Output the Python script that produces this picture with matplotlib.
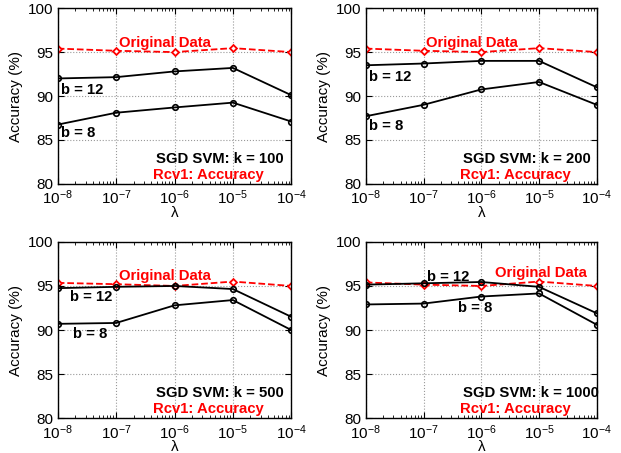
import matplotlib
matplotlib.use('Agg')
import matplotlib.pyplot as plt
import numpy as np

plt.rcParams['font.family'] = ['Liberation Sans', 'DejaVu Sans']
plt.rcParams['mathtext.fontset'] = 'custom'
plt.rcParams['mathtext.rm'] = 'Liberation Sans'
plt.rcParams['mathtext.it'] = 'Liberation Sans:italic'
plt.rcParams['mathtext.bf'] = 'Liberation Sans:bold'

lam = [1e-8, 1e-7, 1e-6, 1e-5, 1e-4]
ks = [100, 200, 500, 1000]

orig = {
    100: [95.4, 95.15, 95.0, 95.45, 95.0],
    200: [95.4, 95.15, 95.0, 95.45, 95.0],
    500: [95.35, 95.2, 95.0, 95.5, 95.0],
    1000: [95.4, 95.15, 95.0, 95.5, 95.0],
}
b12 = {
    100: [92.0, 92.15, 92.8, 93.2, 90.1],
    200: [93.5, 93.7, 94.0, 94.0, 91.0],
    500: [94.75, 94.9, 95.0, 94.65, 91.5],
    1000: [95.15, 95.3, 95.45, 94.9, 91.9],
}
b8 = {
    100: [86.75, 88.1, 88.7, 89.25, 87.1],
    200: [87.7, 89.0, 90.75, 91.6, 89.0],
    500: [90.7, 90.8, 92.8, 93.4, 90.0],
    1000: [92.9, 93.0, 93.8, 94.15, 90.6],
}

# label anchor positions (x in lambda, y in accuracy): original, b=12, b=8
label_pos = {
    100: [(1.1e-7, 96.0), (1.15e-8, 90.7), (1.15e-8, 85.8)],
    200: [(1.1e-7, 96.0), (1.15e-8, 92.2), (1.15e-8, 86.55)],
    500: [(1.1e-7, 96.1), (1.6e-8, 93.7), (1.8e-8, 89.5)],
    1000: [(1.75e-6, 96.5), (1.15e-7, 96.05), (3.9e-7, 92.55)],
}

fig = plt.figure(figsize=(6.21, 4.53), dpi=100)
boxes = [
    [0.093, 0.594, 0.376, 0.388],
    [0.589, 0.594, 0.372, 0.388],
    [0.093, 0.077, 0.376, 0.389],
    [0.589, 0.077, 0.372, 0.389],
]

for k, box in zip(ks, boxes):
    ax = fig.add_axes(box)
    ax.plot(lam, orig[k], '--', color='red', lw=1.3, marker='D', ms=3.5,
            mfc='white', mec='red', mew=1.3)
    ax.plot(lam, b12[k], '-', color='black', lw=1.3, marker='o', ms=4,
            mfc='none', mec='black', mew=1.2)
    ax.plot(lam, b8[k], '-', color='black', lw=1.3, marker='o', ms=4,
            mfc='none', mec='black', mew=1.2)
    ax.set_xscale('log')
    ax.set_xlim(1e-8, 1e-4)
    ax.set_ylim(80, 100)
    ax.set_xticks(lam)
    ax.set_yticks([80, 85, 90, 95, 100])
    ax.grid(True, which='major', linestyle=':', color='#999999', lw=0.8)
    ax.tick_params(direction='in', top=True, right=True, labelsize=11, length=4)
    ax.tick_params(which='minor', direction='in', top=True, right=True, length=2)
    for s in ax.spines.values():
        s.set_linewidth(1.0)
    ax.set_ylabel('Accuracy (%)', fontsize=11, labelpad=3)
    ax.set_xlabel('λ', fontsize=11, labelpad=-1)

    (ox, oy), (x12, y12), (x8, y8) = label_pos[k]
    ax.text(ox, oy, 'Original Data', color='red', fontsize=10.7, fontweight='bold',
            va='center', ha='left')
    ax.text(x12, y12, 'b = 12', color='black', fontsize=10.7, fontweight='bold',
            va='center', ha='left')
    ax.text(x8, y8, 'b = 8', color='black', fontsize=10.7, fontweight='bold',
            va='center', ha='left')
    ax.text(0.42, 0.143, 'SGD SVM: k = %d' % k, transform=ax.transAxes,
            color='black', fontsize=10.7, fontweight='bold', va='center', ha='left')
    ax.text(0.41, 0.05, 'Rcv1: Accuracy', transform=ax.transAxes,
            color='red', fontsize=10.7, fontweight='bold', va='center', ha='left')

fig.savefig('out.png', dpi=100)
